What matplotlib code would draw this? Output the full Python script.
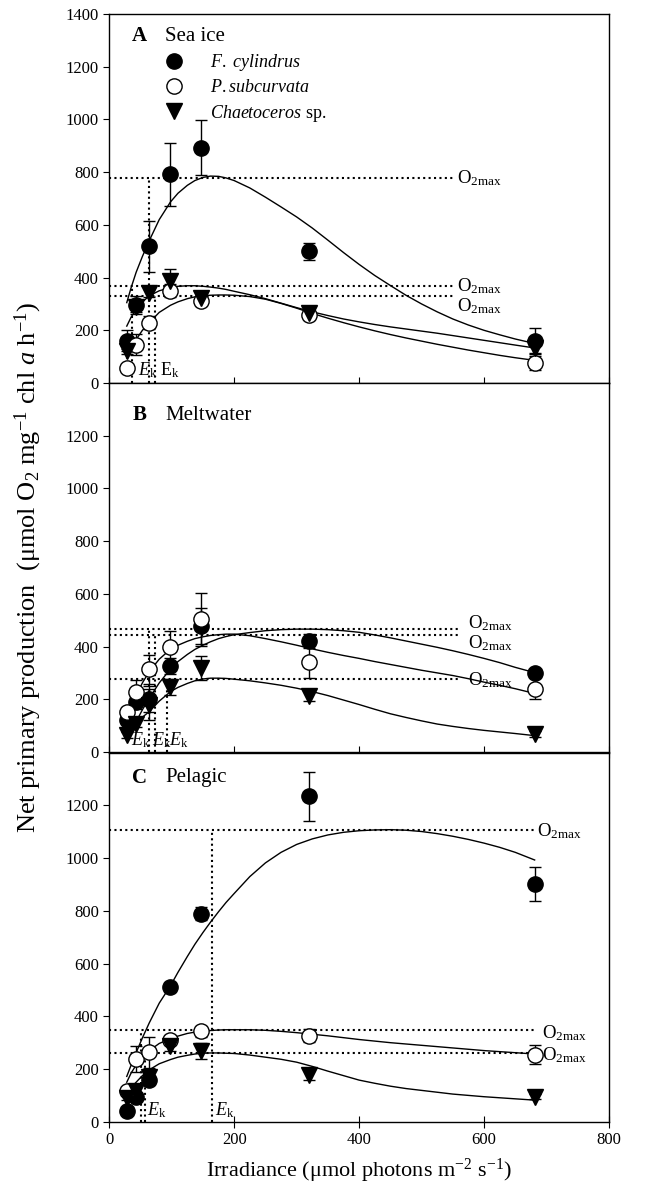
import matplotlib
matplotlib.use('Agg')
import matplotlib.pyplot as plt
from matplotlib.lines import Line2D

plt.rcParams['font.family'] = ['Liberation Serif', 'DejaVu Serif']
plt.rcParams['mathtext.fontset'] = 'custom'
plt.rcParams['mathtext.rm'] = 'Liberation Serif'
plt.rcParams['mathtext.it'] = 'Liberation Serif:italic'
plt.rcParams['mathtext.bf'] = 'Liberation Serif:bold'

# irradiance levels of the incubations
irr = [28, 43, 64, 98, 147, 320, 681]
fit_x = [28, 35, 43, 53, 64, 80, 98, 110, 125, 137, 150, 162, 175, 187, 200, 225, 250,
         275, 300, 325, 350, 375, 400, 425, 450, 475, 500, 525, 550, 575, 600, 625, 650, 681]

# A - sea ice
A_fcyl = [160, 297, 518, 792, 893, 500, 160]
A_fcyl_err = [40, 35, 97, 120, 103, 33, 50]
A_psub = [57, 146, 229, 350, 312, 259, 76]
A_psub_err = [10, 40, 25, 25, 20, 20, 25]
A_chae = [121, 290, 343, 388, 324, 265, 133]
A_chae_err = [10, 20, 15, 45, 20, 15, 20]
A_fcyl_fit = [305, 362, 420, 480, 540, 620, 687, 720, 750, 768, 780, 785, 784, 778, 768, 740, 705,
              668, 630, 588, 542, 495, 450, 408, 370, 333, 300, 270, 243, 220, 200, 183, 167, 150]
A_psub_fit = [95, 130, 165, 200, 229, 268, 295, 308, 320, 327, 331, 333, 334, 334, 333, 328, 318,
              302, 284, 264, 246, 229, 213, 198, 184, 171, 159, 147, 136, 125, 115, 105, 96, 86]
A_chae_fit = [216, 250, 280, 307, 331, 350, 362, 367, 369, 369, 367, 364, 360, 355, 348, 335, 320,
              303, 286, 270, 256, 243, 232, 222, 213, 205, 197, 189, 180, 171, 162, 153, 144, 133]
A_ek = [64, 74, 36]
A_o2max = [778, 329, 369]

# B - meltwater
B_fcyl = [121, 189, 200, 325, 478, 421, 301]
B_fcyl_err = [15, 25, 50, 30, 70, 25, 15]
B_psub = [150, 227, 314, 399, 503, 342, 240]
B_psub_err = [20, 45, 55, 60, 100, 60, 40]
B_chae = [64, 108, 180, 248, 318, 212, 68]
B_chae_err = [10, 15, 60, 30, 45, 20, 10]
B_fcyl_fit = [60, 85, 115, 160, 204, 262, 315, 343, 370, 389, 405, 418, 430, 438, 445, 453, 460,
              464, 466, 466, 464, 460, 454, 444, 433, 421, 409, 397, 384, 370, 355, 339, 321, 301]
B_psub_fit = [130, 170, 215, 262, 305, 352, 390, 405, 420, 430, 437, 442, 445, 447, 447, 441, 430,
              418, 405, 391, 378, 366, 355, 343, 332, 321, 310, 300, 290, 278, 265, 253, 240, 222]
B_chae_fit = [64, 88, 110, 132, 153, 193, 229, 245, 260, 270, 277, 280, 280, 279, 276, 270, 262,
              253, 242, 229, 214, 197, 180, 162, 145, 131, 118, 106, 97, 89, 82, 76, 70, 62]
B_ek = [63, 74, 92]
B_o2max = [466, 444, 276]

# C - pelagic
C_fcyl = [42, 95, 159, 512, 789, 1234, 902]
C_fcyl_err = [10, 15, 20, 20, 25, 93, 65]
C_psub = [118, 238, 263, 310, 343, 326, 255]
C_psub_err = [10, 50, 60, 20, 20, 25, 35]
C_chae = [92, 118, 168, 288, 268, 177, 95]
C_chae_err = [10, 15, 20, 20, 30, 20, 10]
C_fcyl_fit = [172, 215, 262, 318, 375, 450, 516, 567, 627, 673, 718, 757, 797, 832, 866, 930, 982,
              1022, 1052, 1073, 1088, 1098, 1104, 1107, 1108, 1106, 1101, 1093, 1083, 1071, 1057,
              1041, 1022, 993]
C_psub_fit = [150, 185, 215, 245, 270, 297, 315, 325, 335, 340, 344, 346, 348, 349, 349, 349, 347,
              343, 338, 332, 326, 319, 312, 306, 300, 295, 290, 285, 280, 275, 270, 266, 262, 257]
C_chae_fit = [110, 130, 150, 175, 197, 220, 236, 245, 252, 257, 260, 261, 261, 260, 259, 253, 245,
              237, 226, 210, 192, 175, 158, 146, 135, 126, 119, 112, 105, 100, 95, 91, 87, 82]
C_ek = [164, 50, 56.5]
C_o2max = [1108, 349, 259]

dot = (0, (1, 1.6))
mk = dict(ms=11, capsize=4, elinewidth=1, capthick=1, ecolor='k', ls='none')


def panel(ax, letter, name, data, fits, ek, o2max, hline_end, o2_lab, ek_lab):
    styles = [dict(marker='o', mfc='k', mec='k'),
              dict(marker='o', mfc='white', mec='k', mew=1),
              dict(marker='v', mfc='k', mec='k')]
    for (y, e), st in zip(data, styles):
        ax.errorbar(irr, y, yerr=e, **mk, **st, zorder=3)
    for f in fits:
        ax.plot(fit_x, f, color='k', lw=1, zorder=2)
    for xe, om in zip(ek, o2max):
        ax.plot([0, hline_end], [om, om], color='k', lw=1.5, ls=dot, zorder=1)
        ax.plot([xe, xe], [0, om], color='k', lw=1.5, ls=dot, zorder=1)
    for (tx, ty) in o2_lab:
        ax.text(tx, ty, r'$\mathregular{O_{2max}}$', fontsize=13.5, va='center', ha='left')
    for (tx, ty, s) in ek_lab:
        ax.text(tx, ty, s, fontsize=13, va='baseline', ha='left')
    ax.text(0.046, letter[1], letter[0], transform=ax.transAxes, fontsize=15,
            fontweight='bold', va='center')
    ax.text(0.112, letter[1], name, transform=ax.transAxes, fontsize=15, va='center')
    ax.set_xlim(0, 800)
    ax.set_ylim(0, 1400)
    ax.set_xticks([0, 200, 400, 600, 800])
    ax.tick_params(axis='x', direction='inout', length=8, labelsize=12)
    ax.tick_params(axis='y', direction='out', length=4, labelsize=12)
    for s in ax.spines.values():
        s.set_linewidth(1)


fig = plt.figure(figsize=(6.52, 11.94), dpi=100)
L, W, H = 0.1676, 0.7664, 0.3091
axA = fig.add_axes([L, 0.6792, W, H])
axB = fig.add_axes([L, 0.3702, W, H])
axC = fig.add_axes([L, 0.0605, W, H])

ek_it = r'$E_\mathrm{k}$'
panel(axA, ('A', 0.94), 'Sea ice',
      [(A_fcyl, A_fcyl_err), (A_psub, A_psub_err), (A_chae, A_chae_err)],
      [A_fcyl_fit, A_psub_fit, A_chae_fit], A_ek, A_o2max, 551,
      [(557, 779), (557, 366), (557, 292)],
      [(46, 28, ek_it), (81, 28, r'$\mathregular{E_k}$')])
panel(axB, ('B', 0.913), 'Meltwater',
      [(B_fcyl, B_fcyl_err), (B_psub, B_psub_err), (B_chae, B_chae_err)],
      [B_fcyl_fit, B_psub_fit, B_chae_fit], B_ek, B_o2max, 559,
      [(574, 487), (574, 413), (574, 273)],
      [(35, 27, ek_it), (68, 27, ek_it), (96, 27, ek_it)])
panel(axC, ('C', 0.932), 'Pelagic',
      [(C_fcyl, C_fcyl_err), (C_psub, C_psub_err), (C_chae, C_chae_err)],
      [C_fcyl_fit, C_psub_fit, C_chae_fit], C_ek, C_o2max, 681,
      [(684, 1104), (692, 336), (692, 252)],
      [(60, 25, ek_it), (169, 25, ek_it)])

axA.set_yticks(range(0, 1401, 200))
axB.set_yticks(range(0, 1201, 200))
axC.set_yticks(range(0, 1201, 200))
axA.tick_params(axis='x', labelbottom=False)
axB.tick_params(axis='x', labelbottom=False)

handles = [Line2D([], [], ls='none', marker='o', ms=11, mfc='k', mec='k'),
           Line2D([], [], ls='none', marker='o', ms=11, mfc='white', mec='k'),
           Line2D([], [], ls='none', marker='v', ms=11, mfc='k', mec='k')]
labels = [r'$\mathit{F.\ cylindrus}$', r'$\mathit{P.subcurvata}$', r'$\mathit{Chaetoceros}$ sp.']
axA.legend(handles, labels, loc='upper left', bbox_to_anchor=(0.107, 0.897),
           frameon=False, fontsize=13, handlelength=1.2, handletextpad=1.4,
           labelspacing=0.35, borderpad=0, borderaxespad=0)

axC.set_xlabel(r'Irradiance ($\mathregular{\mu}$mol photons m$^{-2}$ s$^{-1}$)', fontsize=16, labelpad=6)
fig.text(28 / 652, 1 - 567 / 1194,
         r'Net primary production  ($\mathregular{\mu}$mol O$_2$ mg$^{-1}$ chl $a$ h$^{-1}$)',
         rotation=90, ha='center', va='center', fontsize=19)

fig.savefig('out.png', dpi=100)
